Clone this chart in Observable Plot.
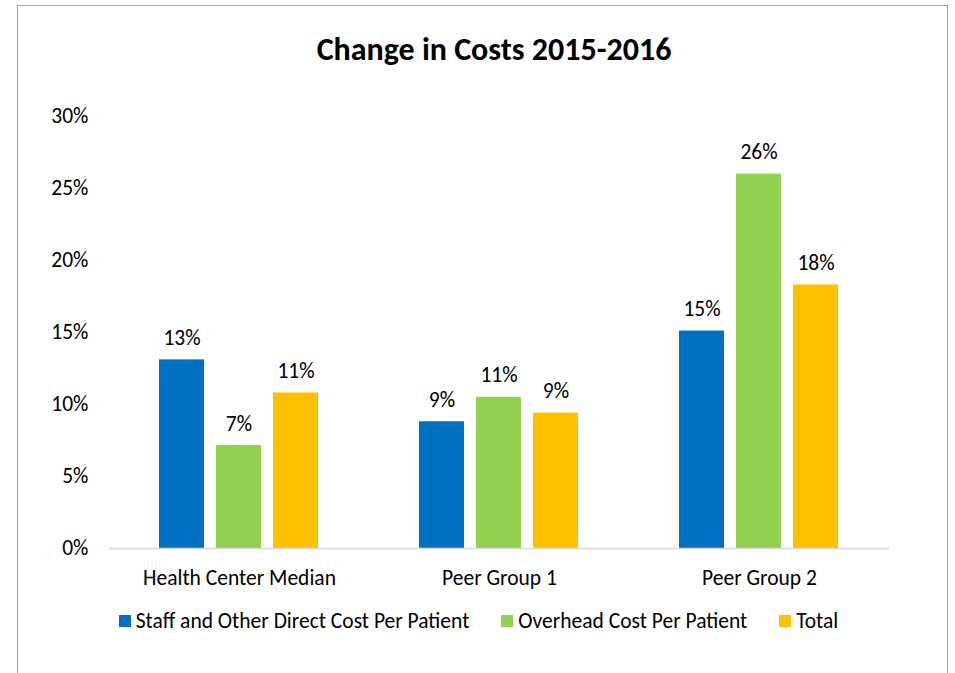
<!DOCTYPE html>
<html>
<head>
<meta charset="utf-8">
<script src="https://cdn.jsdelivr.net/npm/d3@7"></script>
<script src="https://cdn.jsdelivr.net/npm/@observablehq/plot@0.6"></script>
<style>
  html, body { margin: 0; padding: 0; background: #fff; }
  body { width: 955px; height: 673px; position: relative; overflow: hidden; font-family: Carlito, Lato, "Open Sans", sans-serif; color: #000; }
  #frame { position: absolute; left: 17px; top: 5px; width: 931px; height: 720px; border: 1px solid #a6a6a6; box-sizing: border-box; }
  #chart { position: absolute; left: 0; top: 0; }
  #title { position: absolute; left: 0; top: 30px; width: 988px; text-align: center; font-weight: bold; font-size: 32px; line-height: 40px; }
  #legend { position: absolute; left: 0; top: 606px; width: 957px; display: flex; justify-content: center; align-items: center; font-size: 21.5px; line-height: 30px; }
  .item { display: flex; align-items: center; margin: 0 16px; }
  .sw { width: 12px; height: 12px; margin-right: 5px; }
</style>
</head>
<body>
<div id="frame"></div>
<div id="chart"></div>
<div id="title">Change in Costs 2015-2016</div>
<div id="legend"></div>
<script>
const groups = ["Health Center Median", "Peer Group 1", "Peer Group 2"];
const series = ["Staff and Other Direct Cost Per Patient", "Overhead Cost Per Patient", "Total"];
const staffValues = [13.1, 8.8, 15.1];
const overheadValues = [7.15, 10.5, 26.0];
const totalValues = [10.8, 9.4, 18.3];
const seriesColors = ["#0070C0", "#92D050", "#FFC000"];
const yTicks = [0, 5, 10, 15, 20, 25, 30];

const valuesBySeries = [staffValues, overheadValues, totalValues];
const data = [];
groups.forEach((g, gi) => {
  series.forEach((s, si) => {
    data.push({ group: g, series: s, value: valuesBySeries[si][gi] });
  });
});

const chart = Plot.plot({
  width: 955,
  height: 673,
  marginLeft: 108,
  marginRight: 65,
  marginTop: 116,
  marginBottom: 125,
  style: { fontFamily: "Carlito, Lato, 'Open Sans', sans-serif", fontSize: "21.5px", color: "#000", background: "transparent", overflow: "visible" },
  fx: { domain: groups, padding: 0, label: null, axis: "bottom", tickSize: 0, tickPadding: 21 },
  x: { domain: series, paddingInner: 0.207, paddingOuter: 0.853, axis: null },
  y: { domain: [0, 30], ticks: yTicks, tickFormat: d => d + "%", label: null, tickSize: 0, tickPadding: 21 },
  color: { domain: series, range: seriesColors },
  marks: [
    Plot.barY(data, { fx: "group", x: "series", y: "value", fill: "series" }),
    Plot.ruleY([0], { stroke: "#d9d9d9", strokeWidth: 1.5 }),
    Plot.text(data, { fx: "group", x: "series", y: "value", text: d => Math.round(d.value) + "%", dy: -15, lineAnchor: "bottom", fontSize: 21.5, fill: "#000" })
  ]
});
document.getElementById("chart").appendChild(chart);

const legend = document.getElementById("legend");
series.forEach((s, i) => {
  const item = document.createElement("div");
  item.className = "item";
  const sw = document.createElement("div");
  sw.className = "sw";
  sw.style.background = seriesColors[i];
  const lab = document.createElement("span");
  lab.textContent = s;
  item.appendChild(sw);
  item.appendChild(lab);
  legend.appendChild(item);
});
</script>
</body>
</html>
